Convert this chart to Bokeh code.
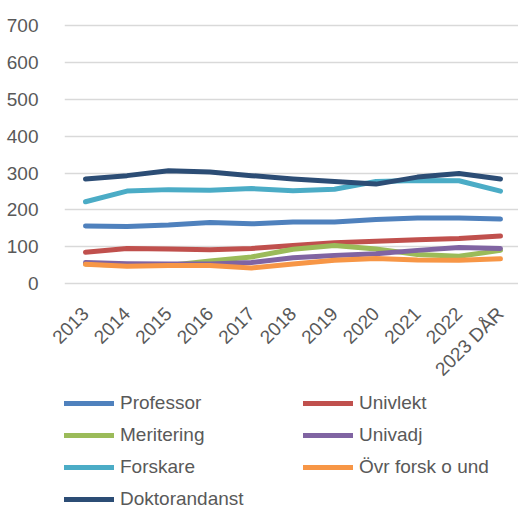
import math
from bokeh.plotting import figure
from bokeh.layouts import column
from bokeh.models import Range1d, FixedTicker, Legend, LegendItem
from bokeh.embed import file_html
from bokeh.resources import INLINE

years = ["2013", "2014", "2015", "2016", "2017", "2018", "2019", "2020", "2021", "2022", "2023 DÅR"]
professor = [156, 155, 159, 166, 162, 167, 167, 174, 178, 178, 175]
univlekt = [85, 95, 94, 92, 95, 103, 111, 115, 119, 122, 129]
meritering = [53, 49, 49, 61, 72, 93, 103, 94, 79, 74, 90]
univadj = [57, 54, 53, 53, 57, 70, 76, 81, 90, 98, 95]
forskare = [222, 251, 255, 253, 258, 252, 256, 277, 280, 279, 251]
ovr = [52, 47, 49, 49, 42, 53, 63, 68, 64, 63, 67]
doktorand = [284, 293, 306, 303, 293, 284, 277, 270, 289, 299, 284]
y_ticks = [0, 100, 200, 300, 400, 500, 600, 700]

series = [
    ("Professor", professor, "#4F81BD"),
    ("Univlekt", univlekt, "#C0504D"),
    ("Meritering", meritering, "#9BBB59"),
    ("Univadj", univadj, "#8064A2"),
    ("Forskare", forskare, "#4BACC6"),
    ("Övr forsk o und", ovr, "#F79646"),
    ("Doktorandanst", doktorand, "#2C4D75"),
]

FONT = "Liberation Sans"
TXT = "#595959"

x = list(range(len(years)))

# main chart
p = figure(width=518, height=392, output_backend="svg", toolbar_location=None,
           x_range=Range1d(-0.506, 10.434), y_range=Range1d(-19.0, 733.4),
           min_border_left=64, min_border_right=0, min_border_top=13, min_border_bottom=102)
p.outline_line_color = None
p.xgrid.grid_line_color = None
p.ygrid.grid_line_color = "#D9D9D9"
p.ygrid.grid_line_width = 1.5
p.yaxis.ticker = FixedTicker(ticks=y_ticks)
p.xaxis.ticker = FixedTicker(ticks=x)
p.xaxis.major_label_overrides = {i: lab for i, lab in enumerate(years)}
p.xaxis.major_label_orientation = math.pi / 4
for ax in (p.xaxis, p.yaxis):
    ax.axis_line_color = None
    ax.major_tick_line_color = None
    ax.minor_tick_line_color = None
    ax.major_label_text_font = FONT
    ax.major_label_text_font_size = "19px"
    ax.major_label_text_color = TXT
p.yaxis.major_label_standoff = 20
p.xaxis.major_label_standoff = 14

for name, vals, col in series:
    p.line(x, vals, line_color=col, line_width=5, line_cap="round", line_join="round")

# legend strip (same series, plotted outside its view so only the legend shows)
q = figure(width=518, height=117, output_backend="svg", toolbar_location=None,
           x_range=Range1d(0, 1), y_range=Range1d(0, 1), min_border=0)
q.axis.visible = False
q.grid.visible = False
q.outline_line_color = None
items = []
for name, vals, col in series:
    r = q.line(x, vals, line_color=col, line_width=5, line_cap="round", line_join="round")
    items.append(LegendItem(label=name, renderers=[r]))

legend = Legend(items=items, orientation="horizontal", ncols=2,
                location=(0, -1), padding=0, margin=0, spacing=10,
                glyph_width=50, glyph_height=22, label_height=22, label_width=173,
                label_standoff=6, label_text_font=FONT, label_text_font_size="19px",
                label_text_color=TXT, background_fill_alpha=0, border_line_color=None)
q.add_layout(legend, "center")

layout = column(p, q, spacing=0)
open("out.html", "w").write(file_html(layout, INLINE))
